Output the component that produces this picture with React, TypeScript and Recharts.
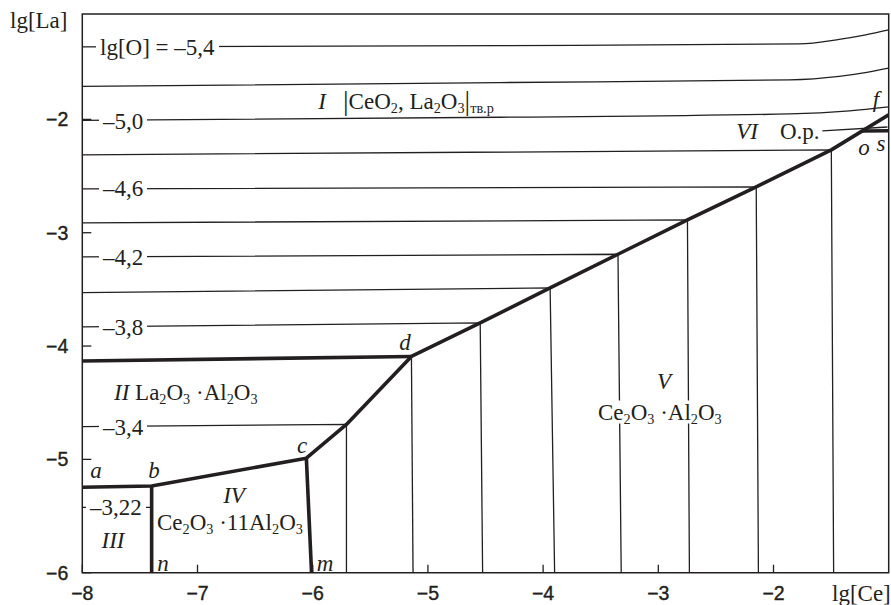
import React from 'react';
import { ComposedChart, Line, XAxis, YAxis, ReferenceArea } from 'recharts';

const INK = '#231f20';
const SERIF = '"Liberation Serif", "Times New Roman", serif';
const SANS = '"Liberation Sans", Arial, sans-serif';

const X_MIN = -8;
const X_MAX = -1;
const Y_MIN = -6;
const Y_MAX = -1.07;

const xTicks = [-8, -7, -6, -5, -4, -3, -2];
const yTicks = [-6, -5, -4, -3, -2];

// iso-O lines in field I that run across the whole width (lg[O] = -5.4, -5.2, -5.0)
const iso54X = [-8, -4.38, -1.78, -1.43, -1.2, -1.0];
const iso54Y = [-1.36, -1.349, -1.334, -1.294, -1.254, -1.21];
const iso52X = [-8, -4.38, -1.86, -1.43, -1.19, -1.0];
const iso52Y = [-1.709, -1.675, -1.651, -1.62, -1.585, -1.548];
const iso50X = [-8, -4.38, -1.86, -1.34, -1.0];
const iso50Y = [-2.009, -1.981, -1.952, -1.925, -1.89];

// thick boundary a-b-c-d-o-f
const boundaryX = [-8, -7.398, -6.055, -5.707, -5.143, -4.546, -3.939, -3.35, -2.747, -2.15, -1.498, -1.0];
const boundaryY = [-5.246, -5.235, -4.99, -4.692, -4.092, -3.796, -3.487, -3.19, -2.887, -2.596, -2.269, -1.96];

// iso-O lines that bend at the boundary and drop to the axis (boundary points 3..10)
const isoLeftY = [-4.711, null, -3.831, -3.529, -3.214, -2.913, -2.613, -2.313];
const isoFootX = [-5.707, -5.129, -4.525, -3.9, -3.322, -2.73, -2.131, -1.478];

// field II boundary (a horizontal ending in d)
const fieldIIX = [-8, -5.143];
const fieldIIY = [-4.132, -4.092];

// b-n and c-m
const bnX = [-7.398, -7.398];
const bnY = [-5.235, -6];
const cmX = [-6.055, -6.01];
const cmY = [-4.99, -6];

// lg[O] = -3.22 in field III
const iso322X = [-8, -7.398];
const iso322Y = [-5.423, -5.423];

// o-s and the O.p. pointer
const osX = [-1.229, -1.0];
const osY = [-2.102, -2.1];
const opX = [-1.576, -1.011];
const opY = [-2.102, -2.067];

const pts = (xs: number[], ys: number[]) => xs.map((x, i) => ({ x, y: ys[i] }));

const tieLines = isoFootX.map((fx, i) => {
  const k = i + 3;
  const out: { x: number; y: number }[] = [];
  if (isoLeftY[i] !== null) out.push({ x: X_MIN, y: isoLeftY[i] as number });
  out.push({ x: boundaryX[k], y: boundaryY[k] });
  out.push({ x: fx, y: Y_MIN });
  return out;
});

const minus = (v: number) => (v < 0 ? '\u2212' + Math.abs(v) : String(v));

const XTick = (props: any) => {
  const { x, y, payload } = props;
  return (
    <g>
      <line x1={x} x2={x} y1={y} y2={y - 8} stroke={INK} strokeWidth={1.3} />
      <text x={x} y={y + 27} textAnchor="middle" fontFamily={SANS} fontSize={19.5} fill={INK} stroke={INK} strokeWidth={0.4}>
        {minus(payload.value)}
      </text>
    </g>
  );
};

const YTick = (props: any) => {
  const { x, y, payload } = props;
  return (
    <g>
      <line x1={x} x2={x + 9} y1={y} y2={y} stroke={INK} strokeWidth={1.3} />
      <text x={x - 14} y={y + 7} textAnchor="end" fontFamily={SANS} fontSize={19.5} fill={INK} stroke={INK} strokeWidth={0.4}>
        {minus(payload.value)}
      </text>
    </g>
  );
};

const Sub = ({ children }: { children: React.ReactNode }) => (
  <sub style={{ fontSize: '0.62em', verticalAlign: '-0.3em', lineHeight: 0 }}>{children}</sub>
);

const T = ({ x, y, children, anchor = 'start', bg = false, italic = false, size = 23 }: any) => (
  <div
    style={{
      position: 'absolute',
      left: x,
      top: y,
      transform: `translate(${anchor === 'middle' ? '-50%' : anchor === 'end' ? '-100%' : '0'}, -50%)`,
      fontFamily: SERIF,
      fontSize: size,
      fontStyle: italic ? 'italic' : 'normal',
      background: bg ? '#fff' : 'transparent',
      padding: bg ? '0 4px' : 0,
      lineHeight: 1,
      whiteSpace: 'nowrap',
      color: INK,
    }}
  >
    {children}
  </div>
);

const thin = { stroke: INK, strokeWidth: 1.3, dot: false, isAnimationActive: false } as const;
const thick = { stroke: INK, strokeWidth: 3.6, dot: false, isAnimationActive: false } as const;

export default function App() {
  return (
    <div style={{ position: 'absolute', left: 0, top: 0, width: 891, height: 605, background: '#fff' }}>
      <ComposedChart width={891} height={605} margin={{ top: 14, right: 2.3, bottom: 0, left: 22.3 }}>
        <XAxis
          type="number"
          dataKey="x"
          domain={[X_MIN, X_MAX]}
          ticks={xTicks}
          interval={0}
          allowDataOverflow
          axisLine={false}
          tickLine={false}
          tickSize={0}
          tickMargin={0}
          height={32.3}
          tick={<XTick />}
        />
        <YAxis
          type="number"
          domain={[Y_MIN, Y_MAX]}
          ticks={yTicks}
          interval={0}
          allowDataOverflow
          axisLine={false}
          tickLine={false}
          tickSize={0}
          tickMargin={0}
          width={60}
          tick={<YTick />}
        />
        <ReferenceArea x1={X_MIN} x2={X_MAX} y1={Y_MIN} y2={Y_MAX} fill="none" stroke={INK} strokeWidth={1.5} />

        <Line data={pts(iso54X, iso54Y)} dataKey="y" type="monotone" {...thin} />
        <Line data={pts(iso52X, iso52Y)} dataKey="y" type="monotone" {...thin} />
        <Line data={pts(iso50X, iso50Y)} dataKey="y" type="monotone" {...thin} />
        {tieLines.map((d, i) => (
          <Line key={i} data={d} dataKey="y" type="linear" {...thin} />
        ))}
        <Line data={pts(iso322X, iso322Y)} dataKey="y" type="linear" {...thin} />
        <Line data={pts(opX, opY)} dataKey="y" type="linear" {...thin} />

        <Line data={pts(fieldIIX, fieldIIY)} dataKey="y" type="linear" {...thick} />
        <Line data={pts(boundaryX, boundaryY)} dataKey="y" type="linear" {...thick} strokeLinejoin="round" />
        <Line data={pts(bnX, bnY)} dataKey="y" type="linear" {...thick} />
        <Line data={pts(cmX, cmY)} dataKey="y" type="linear" {...thick} />
        <Line data={pts(osX, osY)} dataKey="y" type="linear" {...thick} />
      </ComposedChart>

      {/* axis titles */}
      <T x={10} y={20}>lg[La]</T>
      <T x={832} y={593}>lg[Ce]</T>

      {/* iso-O labels */}
      <T x={96} y={47} bg>lg[O] = –5,4</T>
      <T x={99} y={121} bg>–5,0</T>
      <T x={99} y={188} bg>–4,6</T>
      <T x={99} y={257} bg>–4,2</T>
      <T x={99} y={327} bg>–3,8</T>
      <T x={99} y={427} bg>–3,4</T>
      <T x={86} y={507} bg>–3,22</T>

      {/* fields */}
      <T x={322} y={101} anchor="middle" italic>I</T>
      <T x={343} y={101}>
        <span style={{ fontSize: 28, verticalAlign: '-0.05em' }}>|</span>CeO<Sub>2</Sub>, La<Sub>2</Sub>O<Sub>3</Sub>
        <span style={{ fontSize: 28, verticalAlign: '-0.05em' }}>|</span>
        <Sub>тв.р</Sub>
      </T>
      <T x={747} y={131} anchor="middle" italic>VI</T>
      <T x={780} y={131}>O.p.</T>
      <T x={114} y={392}>
        <i>II</i> La<Sub>2</Sub>O<Sub>3</Sub> ·Al<Sub>2</Sub>O<Sub>3</Sub>
      </T>
      <T x={113} y={540} anchor="middle" italic>III</T>
      <T x={234} y={495} anchor="middle" italic>IV</T>
      <T x={157} y={522}>
        Ce<Sub>2</Sub>O<Sub>3</Sub> ·11Al<Sub>2</Sub>O<Sub>3</Sub>
      </T>
      <T x={664} y={381} anchor="middle" italic>V</T>
      <T x={594} y={412} bg>
        Ce<Sub>2</Sub>O<Sub>3</Sub> ·Al<Sub>2</Sub>O<Sub>3</Sub>
      </T>

      {/* points */}
      <T x={96} y={470} anchor="middle" italic>a</T>
      <T x={154} y={470} anchor="middle" italic>b</T>
      <T x={302} y={445} anchor="middle" italic>c</T>
      <T x={405} y={342} anchor="middle" italic>d</T>
      <T x={876} y={99} anchor="middle" italic>f</T>
      <T x={864} y={147} anchor="middle" italic>o</T>
      <T x={881} y={143} anchor="middle" italic>s</T>
      <T x={163} y={563} anchor="middle" italic>n</T>
      <T x={325} y={563} anchor="middle" italic>m</T>
    </div>
  );
}
